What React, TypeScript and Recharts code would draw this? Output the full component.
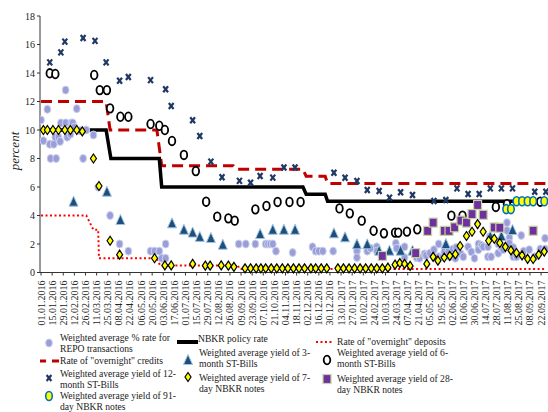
import { ComposedChart, Line, Scatter, XAxis, YAxis } from 'recharts';

// x = days since 01.01.2016, ticks every 14 days
const tickLabels = [
  '01.01.2016', '15.01.2016', '29.01.2016', '12.02.2016', '26.02.2016', '11.03.2016',
  '25.03.2016', '08.04.2016', '22.04.2016', '06.05.2016', '20.05.2016', '03.06.2016',
  '17.06.2016', '01.07.2016', '15.07.2016', '29.07.2016', '12.08.2016', '26.08.2016',
  '09.09.2016', '23.09.2016', '07.10.2016', '21.10.2016', '04.11.2016', '18.11.2016',
  '02.12.2016', '16.12.2016', '30.12.2016', '13.01.2017', '27.01.2017', '10.02.2017',
  '24.02.2017', '10.03.2017', '24.03.2017', '07.04.2017', '21.04.2017', '05.05.2017',
  '19.05.2017', '02.06.2017', '16.06.2017', '30.06.2017', '14.07.2017', '28.07.2017',
  '11.08.2017', '25.08.2017', '08.09.2017', '22.09.2017'
];
const yTicks = [0, 2, 4, 6, 8, 10, 12, 14, 16, 18];

const policyRate = [[0, 10], [82, 10], [88, 8], [149, 8], [152, 6], [330, 6], [334, 5.5], [358, 5.5], [361, 5], [636, 5]];
const overnightCredits = [[0, 12], [82, 12], [87, 10], [146, 10], [152, 7.5], [242, 7.5], [245, 7.25], [330, 7.25], [334, 6.75], [358, 6.75], [361, 6.25], [636, 6.25]];
const overnightDeposits = [[0, 4], [57, 4], [66, 3], [72, 3], [73, 1], [146, 1], [150, 0.5], [248, 0.5], [250, 0.25], [636, 0.25]];

const repo = [
  [0, 10.7], [3, 9.25], [8, 11.45], [11, 9.0], [12, 8.0], [16, 9.0], [18, 9.5], [19, 8.0], [22, 9.5], [24, 9.2],
  [25, 10.5], [31, 10.5], [31, 12.8], [33, 9.5], [35, 9.95], [37, 9.7], [38, 10.5], [40, 10.5], [42, 10.2], [45, 11.5],
  [49, 9.95], [53, 8.0], [57, 10.0], [66, 9.65], [72, 6.0], [87, 4.0], [99, 2.0], [110, 1.5], [138, 1.5], [143, 1.5],
  [149, 1.5], [152, 1.0], [157, 2.0], [157, 1.0],
  [249, 2.0], [258, 2.0], [270, 2.0], [283, 2.0], [286, 2.0], [289, 2.0], [292, 2.0], [296, 1.5], [317, 1.4], [342, 1.8],
  [346, 1.5], [350, 1.5], [355, 1.5], [368, 1.5], [398, 1.5], [398, 1.05], [411, 1.5], [415, 1.7], [423, 1.8], [423, 1.5],
  [447, 2.05], [448, 1.7], [458, 1.8], [458, 1.05], [473, 1.05],
  [477, 1.0], [483, 1.3], [485, 1.2], [490, 1.35], [495, 1.6], [501, 2.0], [501, 1.1], [506, 1.1], [508, 1.45], [513, 1.45],
  [515, 1.1], [519, 1.65], [522, 1.0], [523, 1.75], [529, 1.3], [532, 1.1], [538, 1.8], [542, 1.45], [546, 1.0], [551, 2.0],
  [551, 1.6], [555, 1.9], [557, 1.8], [563, 1.8], [563, 1.1], [565, 2.5], [567, 1.1], [576, 2.0], [576, 1.35], [580, 1.7],
  [582, 1.6], [587, 3.5], [587, 2.95], [590, 2.45], [590, 2.05], [595, 1.75], [595, 1.1], [599, 1.1], [605, 2.6], [608, 1.5],
  [615, 1.6], [622, 1.1], [629, 1.65], [635, 2.4], [635, 1.65]
];
const bills3m = [
  [41, 4.97], [83, 5.67], [100, 3.68], [165, 3.45], [180, 3.0], [191, 2.8], [200, 2.5], [214, 2.42], [229, 1.95], [276, 2.7],
  [292, 3.0], [306, 3.0], [320, 3.0], [369, 2.75], [383, 2.47], [398, 1.98], [411, 1.98], [426, 1.53], [439, 1.53], [453, 1.53],
  [468, 1.53], [510, 2.0], [566, 2.55], [580, 2.55], [594, 2.98]
];
const bills6m = [
  [11, 13.98], [18, 13.93], [67, 13.86], [74, 12.8], [83, 12.8], [87, 11.52], [100, 10.93], [110, 10.93], [138, 10.42], [149, 10.3],
  [156, 10.0], [165, 9.23], [180, 8.25], [195, 7.12], [208, 4.97], [222, 3.92], [236, 3.8], [244, 3.64], [270, 4.43], [284, 4.67],
  [298, 4.95], [313, 4.95], [327, 4.95], [376, 4.5], [389, 4.15], [404, 3.64], [419, 2.93], [432, 2.75], [446, 2.8], [450, 2.8],
  [461, 2.87], [474, 3.03], [517, 3.99], [531, 3.99], [573, 4.6], [587, 4.8], [629, 4.97]
];
const bills12m = [
  [11, 14.75], [25, 15.45], [30, 16.2], [53, 16.46], [68, 16.25], [82, 14.75], [99, 13.46], [110, 13.72], [138, 13.5], [157, 12.86],
  [164, 11.68], [191, 10.68], [200, 9.58], [214, 7.78], [228, 6.68], [250, 6.43], [264, 6.3], [276, 6.77], [292, 6.66], [306, 7.37],
  [320, 7.37], [369, 7.0], [383, 6.65], [398, 6.42], [411, 5.79], [426, 5.72], [439, 5.25], [453, 5.63], [468, 5.44], [495, 5.02],
  [510, 5.09], [524, 5.9], [538, 5.51], [552, 5.51], [566, 5.9], [580, 5.9], [594, 5.9], [622, 5.67], [636, 5.67]
];
const notes7d = [
  [3, 10], [8, 10], [15, 10], [22, 10], [30, 10], [37, 10], [45, 10], [52, 9.9], [66, 8.0], [73, 6.07],
  [87, 2.23], [99, 1.25], [143, 1.0], [156, 0.5], [164, 0.5], [191, 0.6], [207, 0.48], [213, 0.48], [227, 0.5], [236, 0.48],
  [243, 0.4], [257, 0.29], [264, 0.29], [271, 0.29], [277, 0.29], [283, 0.29], [290, 0.29], [297, 0.29], [304, 0.29], [311, 0.29],
  [318, 0.29], [325, 0.29], [332, 0.29], [340, 0.29], [346, 0.29], [353, 0.29], [360, 0.29], [374, 0.29], [381, 0.29], [388, 0.29],
  [395, 0.29], [402, 0.29], [409, 0.29], [416, 0.29], [423, 0.29], [430, 0.29], [437, 0.34], [446, 0.55], [452, 0.66], [458, 0.6],
  [465, 0.46], [486, 0.6], [494, 1.1], [500, 0.83], [508, 1.05], [515, 1.17], [522, 1.28], [528, 1.86], [536, 2.56], [543, 2.86],
  [550, 3.4], [557, 2.86], [564, 2.23], [571, 2.37], [578, 2.07], [585, 1.8], [592, 1.55], [599, 1.37], [606, 1.2], [613, 0.96],
  [620, 0.95], [627, 1.25], [634, 1.47]
];
const notes28d = [
  [430, 1.16], [472, 1.36], [487, 2.92], [494, 3.5], [508, 2.92], [514, 2.92], [521, 3.17], [529, 3.64], [536, 3.5], [543, 4.1],
  [550, 4.74], [557, 4.05], [571, 3.16], [578, 3.14], [620, 2.93]
];
const notes91d = [[586, 4.45], [592, 4.45], [599, 5.0], [606, 5.0], [613, 5.0], [620, 5.0], [634, 5.0]];

const pts = (a: number[][]) => a.map(([d, v]) => ({ d, v }));

const serif = '"Liberation Serif", "Times New Roman", serif';

const RepoDot = (p: any) => <ellipse cx={p.cx} cy={p.cy} rx={3.4} ry={4} fill="#9C9CD8" stroke="#C8D4EE" strokeWidth={1} />;
const Cross = (p: any) => (
  <g stroke="#1F3864" strokeWidth={2.2}>
    <line x1={p.cx - 2.4} y1={p.cy - 3} x2={p.cx + 2.4} y2={p.cy + 3} />
    <line x1={p.cx - 2.4} y1={p.cy + 3} x2={p.cx + 2.4} y2={p.cy - 3} />
  </g>
);
const Ring = (p: any) => <ellipse cx={p.cx} cy={p.cy} rx={3.3} ry={4.3} fill="#fff" stroke="#000" strokeWidth={1.8} />;
const Tri = (p: any) => (
  <polygon points={`${p.cx},${p.cy - 5.5} ${p.cx - 4.5},${p.cy + 4.5} ${p.cx + 4.5},${p.cy + 4.5}`} fill="#1F4E79" stroke="#9DC3E6" strokeWidth={1} />
);
const Diamond = (p: any) => (
  <polygon points={`${p.cx},${p.cy - 4.5} ${p.cx + 3},${p.cy} ${p.cx},${p.cy + 4.5} ${p.cx - 3},${p.cy}`} fill="#FFFF00" stroke="#000" strokeWidth={1.2} />
);
const Square = (p: any) => <rect x={p.cx - 4} y={p.cy - 4.5} width={8} height={9} fill="#7030A0" stroke="#C4D6A0" strokeWidth={1.2} />;
const YellowDot = (p: any) => <ellipse cx={p.cx} cy={p.cy} rx={3.3} ry={4.5} fill="#FFFF00" stroke="#0070C0" strokeWidth={1.6} />;

const XTick = (p: any) => (
  <g transform={`translate(${p.x},${p.y + 3})`}>
    <text transform="rotate(-90)" textAnchor="end" dy={3.5} fontSize={10} fontFamily={serif} fill="#222">
      {tickLabels[Math.round(p.payload.value / 14)]}
    </text>
  </g>
);

const lineStyle = { fontFamily: serif, fontSize: 9.6, lineHeight: '11px', color: '#222', whiteSpace: 'nowrap' as const };

function Entry({ x, y, w, lines, icon, ix, iy }: any) {
  return (
    <>
      <svg style={{ position: 'absolute', left: ix - 12, top: iy - 8 }} width={24} height={16}>
        <g transform="translate(12,8)">{icon}</g>
      </svg>
      <div style={{ position: 'absolute', left: x, top: y, width: w }}>
        {lines.map((t: string, i: number) => (
          <div key={i} style={{ ...lineStyle, textAlign: 'justify', textAlignLast: i < lines.length - 1 ? 'justify' : 'left' }}>{t}</div>
        ))}
      </div>
    </>
  );
}

export default function App() {
  return (
    <div style={{ position: 'absolute', left: 0, top: 0, width: 548, height: 412, background: '#fff' }}>
      <ComposedChart width={548} height={335} margin={{ top: 16, right: 0, bottom: 0, left: 0 }}>
        <XAxis
          type="number"
          dataKey="d"
          domain={[-1.3, 638.7]}
          allowDataOverflow
          ticks={tickLabels.map((_, i) => i * 14)}
          interval={0}
          tick={<XTick />}
          tickSize={3}
          height={62.5}
          stroke="#333"
        />
        <YAxis
          type="number"
          domain={[0, 18]}
          ticks={yTicks}
          width={40}
          tickSize={3}
          stroke="#333"
          tick={{ fontFamily: serif, fontSize: 10, fill: '#222' }}
        />
        <Scatter data={pts(repo)} dataKey="v" shape={RepoDot} isAnimationActive={false} />
        <Line data={pts(overnightDeposits)} dataKey="v" type="linear" stroke="#FF0000" strokeWidth={2} strokeDasharray="2 2.5" dot={false} isAnimationActive={false} />
        <Line data={pts(overnightCredits)} dataKey="v" type="linear" stroke="#C00000" strokeWidth={3} strokeDasharray="11 6" dot={false} isAnimationActive={false} />
        <Line data={pts(policyRate)} dataKey="v" type="linear" stroke="#000" strokeWidth={3.5} dot={false} isAnimationActive={false} />
        <Scatter data={pts(bills3m)} dataKey="v" shape={Tri} isAnimationActive={false} />
        <Scatter data={pts(bills6m)} dataKey="v" shape={Ring} isAnimationActive={false} />
        <Scatter data={pts(bills12m)} dataKey="v" shape={Cross} isAnimationActive={false} />
        <Scatter data={pts(notes7d)} dataKey="v" shape={Diamond} isAnimationActive={false} />
        <Scatter data={pts(notes28d)} dataKey="v" shape={Square} isAnimationActive={false} />
        <Scatter data={pts(notes91d)} dataKey="v" shape={YellowDot} isAnimationActive={false} />
      </ComposedChart>

      <div style={{ position: 'absolute', left: 15, top: 151, transform: 'translate(-50%,-50%) rotate(-90deg)', fontFamily: serif, fontStyle: 'italic', fontSize: 13, color: '#222' }}>
        percent
      </div>

      <Entry x={60} y={332} w={110} ix={49} iy={343} lines={['Weighted average % rate for', 'REPO transactions']} icon={<RepoDot cx={0} cy={0} />} />
      <Entry x={60} y={355} w={110} ix={49} iy={361} lines={['Rate of "overnight" credits']}
        icon={<g><line x1={-9} y1={0} x2={-3} y2={0} stroke="#C00000" strokeWidth={3} /><line x1={3} y1={0} x2={10} y2={0} stroke="#C00000" strokeWidth={3} /></g>} />
      <Entry x={60} y={368} w={110} ix={49} iy={378} lines={['Weighted average yield of 12-', 'month ST-Bills']} icon={<Cross cx={0} cy={0} />} />
      <Entry x={60} y={390} w={110} ix={49} iy={396} lines={['Weighted average yield of 91-', 'day NBKR notes']} icon={<YellowDot cx={0} cy={0} />} />

      <svg style={{ position: 'absolute', left: 177, top: 338 }} width={22} height={8}>
        <line x1={0} y1={4} x2={21} y2={4} stroke="#000" strokeWidth={4} />
      </svg>
      <Entry x={198} y={333} w={106} ix={-50} iy={-50} lines={['NBKR policy rate']} icon={null} />
      <Entry x={199} y={347} w={106} ix={188} iy={360} lines={['Weighted average yield of 3-', 'month ST-Bills']} icon={<Tri cx={0} cy={0} />} />
      <Entry x={199} y={372} w={106} ix={188} iy={377} lines={['Weighted average yield of 7-', 'day NBKR notes']} icon={<Diamond cx={0} cy={0} />} />

      <svg style={{ position: 'absolute', left: 315, top: 339 }} width={20} height={6}>
        <line x1={1} y1={3} x2={19} y2={3} stroke="#FF0000" strokeWidth={2} strokeDasharray="2 2.5" />
      </svg>
      <Entry x={337} y={336} w={108} ix={-50} iy={-50} lines={['Rate of "overnight" deposits']} icon={null} />
      <Entry x={337} y={347} w={108} ix={327} iy={360} lines={['Weighted average yield of 6-', 'month ST-Bills']} icon={<Ring cx={0} cy={0} />} />
      <Entry x={337} y={373} w={108} ix={327} iy={379} lines={['Weighted average yield of 28-', 'day NBKR notes']} icon={<Square cx={0} cy={0} />} />
    </div>
  );
}
